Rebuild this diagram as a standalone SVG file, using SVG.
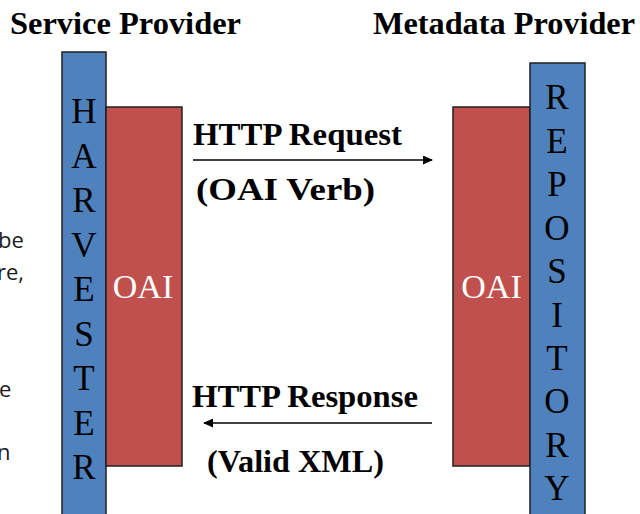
<svg xmlns="http://www.w3.org/2000/svg" width="640" height="514" viewBox="0 0 640 514">
  <defs>
    <style>
      .bar { fill: #4F81BD; stroke: #1f1f1f; stroke-width: 1.5; }
      .oai { fill: #C0504D; stroke: #1f1f1f; stroke-width: 1.5; }
      .oai-label { font-family: "Liberation Serif", serif; font-size: 34px; fill: #ffffff; text-anchor: middle; }
      .letter { font-family: "Liberation Serif", serif; font-size: 35px; fill: #000000; text-anchor: middle; }
      .title { font-family: "Liberation Serif", serif; font-weight: bold; font-size: 32px; fill: #000000; }
      .msg { font-family: "Liberation Serif", serif; font-weight: bold; font-size: 31px; fill: #000000; }
      .side { font-family: "Open Sans", "Liberation Sans", sans-serif; font-size: 22px; fill: #1a1a1a; }
      .link { stroke: #000000; stroke-width: 1.5; fill: none; }
    </style>
    <marker id="head" viewBox="0 0 10 10" refX="9" refY="5" markerWidth="10" markerHeight="9" markerUnits="userSpaceOnUse" orient="auto" preserveAspectRatio="none">
      <path d="M0,0 L10,5 L0,10 z" fill="#000000"/>
    </marker>
  </defs>

  <rect width="640" height="514" fill="#ffffff"/>

  <!-- clipped body text at the left edge -->
  <g id="side-text" class="side">
    <text x="-2" y="248">be</text>
    <text x="-3" y="280">re,</text>
    <text x="-1" y="397">e</text>
    <text x="-3" y="460">n</text>
  </g>

  <!-- titles -->
  <text class="title" x="10" y="34" textLength="231" lengthAdjust="spacingAndGlyphs">Service Provider</text>
  <text class="title" x="373" y="34" textLength="262" lengthAdjust="spacingAndGlyphs">Metadata Provider</text>

  <!-- service provider side -->
  <g id="harvester">
    <rect class="bar" x="62" y="52" width="44" height="470"/>
    <text class="letter" x="84" y="123">H</text>
    <text class="letter" x="84" y="167.5">A</text>
    <text class="letter" x="84" y="212">R</text>
    <text class="letter" x="84" y="256.5">V</text>
    <text class="letter" x="84" y="301">E</text>
    <text class="letter" x="84" y="345.5">S</text>
    <text class="letter" x="84" y="390">T</text>
    <text class="letter" x="84" y="434.5">E</text>
    <text class="letter" x="84" y="479">R</text>
  </g>
  <g id="oai-harvester">
    <rect class="oai" x="106" y="107" width="76" height="359"/>
    <text class="oai-label" x="143" y="298">OAI</text>
  </g>

  <!-- metadata provider side -->
  <g id="oai-repository">
    <rect class="oai" x="453" y="107" width="77" height="359"/>
    <text class="oai-label" x="491.5" y="298">OAI</text>
  </g>
  <g id="repository">
    <rect class="bar" x="530" y="63" width="55" height="460"/>
    <text class="letter" x="557" y="109">R</text>
    <text class="letter" x="557" y="153">E</text>
    <text class="letter" x="557" y="196">P</text>
    <text class="letter" x="557" y="240">O</text>
    <text class="letter" x="557" y="283">S</text>
    <text class="letter" x="557" y="327">I</text>
    <text class="letter" x="557" y="370">T</text>
    <text class="letter" x="557" y="413">O</text>
    <text class="letter" x="557" y="457">R</text>
    <text class="letter" x="557" y="500">Y</text>
  </g>

  <!-- request / response connectors -->
  <g id="connectors">
    <line class="link" x1="193" y1="160" x2="432" y2="160" marker-end="url(#head)"/>
    <line class="link" x1="432" y1="423" x2="204" y2="423" marker-end="url(#head)"/>
  </g>
  <g id="labels" class="msg">
    <text x="193" y="145" textLength="209" lengthAdjust="spacingAndGlyphs">HTTP Request</text>
    <text x="196" y="200" textLength="179" lengthAdjust="spacingAndGlyphs">(OAI Verb)</text>
    <text x="192" y="407" textLength="226" lengthAdjust="spacingAndGlyphs">HTTP Response</text>
    <text x="207" y="472" textLength="177" lengthAdjust="spacingAndGlyphs">(Valid XML)</text>
  </g>
</svg>
